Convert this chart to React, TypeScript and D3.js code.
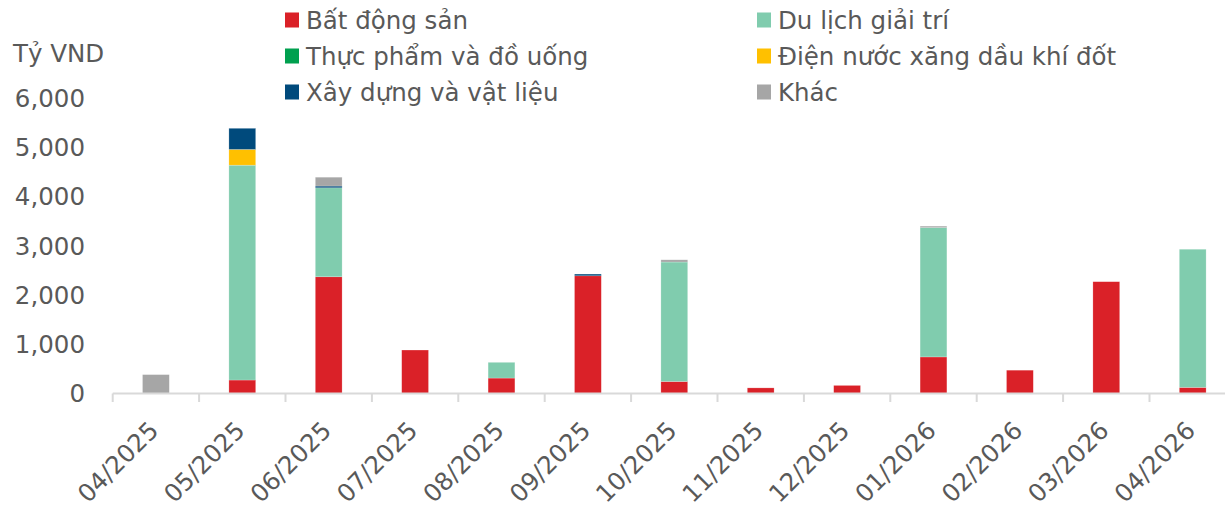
import React from "react";
import * as d3 from "d3";

const months = ["04/2025","05/2025","06/2025","07/2025","08/2025","09/2025","10/2025","11/2025","12/2025","01/2026","02/2026","03/2026","04/2026"];
const batDongSan = [0, 270, 2370, 880, 310, 2390, 240, 110, 160, 740, 470, 2270, 120];
const duLichGiaiTri = [0, 4370, 1810, 0, 320, 0, 2430, 0, 0, 2630, 0, 0, 2810];
const thucPham = [0, 0, 0, 0, 0, 0, 0, 0, 0, 0, 0, 0, 0];
const dienNuoc = [0, 320, 0, 0, 0, 0, 0, 0, 0, 0, 0, 0, 0];
const xayDung = [0, 430, 35, 0, 0, 35, 0, 0, 0, 0, 0, 0, 0];
const khac = [380, 0, 180, 0, 0, 0, 45, 0, 0, 30, 0, 0, 0];
const yTicks = [0, 1000, 2000, 3000, 4000, 5000, 6000];

const seriesNames = ["Bất động sản", "Du lịch giải trí", "Thực phẩm và đồ uống", "Điện nước xăng dầu khí đốt", "Xây dựng và vật liệu", "Khác"];
const seriesData = [batDongSan, duLichGiaiTri, thucPham, dienNuoc, xayDung, khac];
const colors = ["#DA2128", "#80CCAE", "#00A04F", "#FFC000", "#004A7C", "#A6A6A6"];

const FONT = "'DejaVu Sans', sans-serif";
const TEXT = "#595959";

export default function App() {
  const x = d3.scaleBand<string>().domain(months).range([112.7, 112.7 + 13 * 86.4]).paddingInner(0.69).paddingOuter(0.345);
  const y = d3.scaleLinear().domain([0, 6000]).range([393.3, 98.3]);
  const rows = months.map((m, i) => {
    const r: any = { month: m };
    seriesNames.forEach((s, j) => (r[s] = seriesData[j][i]));
    return r;
  });
  const stacked = d3.stack<any>().keys(seriesNames)(rows);
  const step = x.step();
  const bandStart = x.range()[0];

  const legendPos = [
    { x: 285, y: 20 }, { x: 757, y: 20 },
    { x: 285, y: 56 }, { x: 757, y: 56 },
    { x: 285, y: 92 }, { x: 757, y: 92 },
  ];

  return (
    <svg width={1225} height={507} style={{ position: "absolute", left: 0, top: 0, background: "#fff" }}>
      {/* legend */}
      {seriesNames.map((s, i) => (
        <g key={s} transform={`translate(${legendPos[i].x},${legendPos[i].y})`}>
          <rect x={0} y={-7.5} width={14} height={15} fill={colors[i]} />
          <text x={21} y={0} dy="0.36em" fontFamily={FONT} fontSize={24.5} fill={TEXT}>{s}</text>
        </g>
      ))}
      <text x={13} y={53} dy="0.36em" fontFamily={FONT} fontSize={24.5} fill={TEXT}>Tỷ VND</text>
      {/* y labels */}
      {yTicks.map((t) => (
        <text key={t} x={85} y={y(t)} dy="0.36em" textAnchor="end" fontFamily={FONT} fontSize={24.5} fill={TEXT}>
          {d3.format(",")(t)}
        </text>
      ))}
      {/* bars */}
      {stacked.map((layer, li) => (
        <g key={layer.key} fill={colors[li]}>
          {layer.map((d, i) => {
            const h = y(d[0]) - y(d[1]);
            if (h <= 0) return null;
            return <rect key={i} x={x(months[i])} y={y(d[1])} width={x.bandwidth()} height={h} stroke="#ffffff" strokeOpacity={0.35} strokeWidth={0.6} />;
          })}
        </g>
      ))}
      {/* axis */}
      <line x1={bandStart} x2={1225} y1={393.5} y2={393.5} stroke="#D9D9D9" strokeWidth={2} />
      {months.map((m, i) => (
        <line key={m} x1={bandStart + i * step} x2={bandStart + i * step} y1={393.5} y2={402} stroke="#D9D9D9" strokeWidth={2} />
      ))}
      {months.map((m) => {
        const cx = (x(m) as number) + x.bandwidth() / 2;
        return (
          <text key={m} transform={`translate(${cx + 4},${432}) rotate(-45)`} textAnchor="end" fontFamily={FONT} fontSize={24.5} fill={TEXT}>
            {m}
          </text>
        );
      })}
    </svg>
  );
}
